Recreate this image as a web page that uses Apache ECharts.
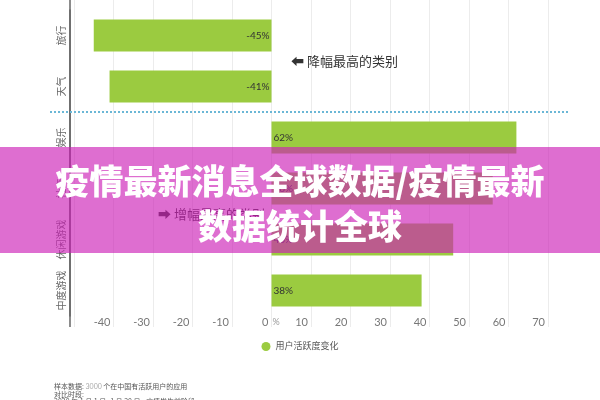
<!DOCTYPE html>
<html><head><meta charset="utf-8">
<script src="https://cdn.jsdelivr.net/npm/echarts@6/dist/echarts.min.js"></script>
<style>html,body{margin:0;padding:0;background:#fff}#c{width:600px;height:400px}</style>
</head><body><div id="c"></div>
<script>
const categories = ['旅行', '天气', '娱乐', '社交', '休闲游戏', '中度游戏'];
const values = [-45, -41, 62, 56, 46, 38];
const seriesName = '用户活跃度变化';
const xTicks = { min: -50, max: 70, interval: 10 };
const titleLines = ['疫情最新消息全球数据/疫情最新', '数据统计全球'];
const noteDown = '⬅ 降幅最高的类别';
const noteUp = '➡ 增幅最高的类别';
const footer = ['样本数据: {l|3000} 个在中国有活跃用户的应用', '对比时段:', '2020 年 1 月 1 日- 1 月 20 日 - 疫情发生前阶段'];

const chart = echarts.init(document.getElementById('c'));
const font = 'Lato, "Noto Sans CJK SC", sans-serif';
chart.setOption({
  animation: false,
  grid: { left: 74, right: 52, top: 10, bottom: 84, containLabel: false },
  legend: {
    data: [seriesName], bottom: 44, left: 'center', icon: 'circle',
    itemWidth: 9, itemHeight: 9, itemGap: 5,
    textStyle: { fontSize: 9, color: '#555', fontFamily: font }
  },
  xAxis: [{
    type: 'value', min: xTicks.min, max: xTicks.max, interval: xTicks.interval,
    axisLine: { show: false },
    axisTick: { show: true, length: 11, lineStyle: { color: '#ececec' } },
    splitLine: { show: true, lineStyle: { color: '#ececec', width: 1 } },
    axisLabel: {
      margin: 1, align: 'right', padding: [0, 3, 0, 0],
      fontSize: 11, color: '#777', fontFamily: font,
      formatter: v => (v === xTicks.min ? '' : String(v))
    }
  }, {
    type: 'value', position: 'top', min: xTicks.min, max: xTicks.max, interval: xTicks.interval,
    axisLine: { show: false },
    axisTick: { show: true, length: 10, lineStyle: { color: '#ececec' } },
    splitLine: { show: false }, axisLabel: { show: false }
  }],
  yAxis: {
    type: 'category', data: categories, inverse: true, offset: 4,
    axisLine: { onZero: false, lineStyle: { color: '#666', width: 1.5 } },
    axisTick: { length: 15, interval: 0, lineStyle: { color: '#888' } },
    axisLabel: { interval: 0, hideOverlap: false, rotate: 90, margin: 3, fontSize: 10, color: '#666', fontFamily: font }
  },
  series: [{
    name: seriesName, type: 'bar', barWidth: '63%',
    itemStyle: { color: '#9bcb40' },
    data: values.map(v => ({
      value: v,
      label: { position: v < 0 ? 'insideRight' : 'insideLeft' }
    })),
    label: { show: true, distance: 2, formatter: '{c}%', fontSize: 10, color: '#333', fontFamily: font }
  }]
});

const yA = chart.convertToPixel({ yAxisIndex: 0 }, categories[1]);
const yB = chart.convertToPixel({ yAxisIndex: 0 }, categories[2]);
const sepY = Math.round((yA + yB) / 2);
const x0 = chart.convertToPixel({ xAxisIndex: 0 }, 0);
const yUp = (chart.convertToPixel({ yAxisIndex: 0 }, categories[3]) + chart.convertToPixel({ yAxisIndex: 0 }, categories[4])) / 2;
const yDown = (yA + chart.convertToPixel({ yAxisIndex: 0 }, categories[0])) / 2;

chart.setOption({
  graphic: [
    { type: 'line', z: 5, shape: { x1: 70, y1: 0, x2: 70, y2: 327 }, style: { stroke: '#666', lineWidth: 1.5 } },
    { type: 'line', z: 5, shape: { x1: 50, y1: sepY, x2: 568, y2: sepY }, style: { stroke: '#6bb7d6', lineWidth: 2, lineDash: [2, 2] } },
    { type: 'text', z: 5, x: x0 + 1, y: 322, style: { text: '%', fontSize: 9, fill: '#999', fontFamily: font, verticalAlign: 'middle' } },
    { type: 'text', z: 5, x: 291, y: yDown, style: { text: noteDown, fontSize: 13, fill: '#333', fontFamily: '"Noto Sans CJK SC", "DejaVu Sans"', verticalAlign: 'middle' } },
    { type: 'text', z: 5, x: 158, y: yUp, style: { text: noteUp, fontSize: 13, fill: '#333', fontFamily: '"Noto Sans CJK SC", "DejaVu Sans"', verticalAlign: 'middle' } },
    { type: 'text', z: 5, x: 54, y: 383, style: {
      text: footer.join('\n'), fontSize: 7, lineHeight: 7.5, fill: '#555', fontFamily: '"Noto Sans CJK SC"',
      rich: { l: { fontSize: 7, fill: '#aaa', fontFamily: font } }
    } },
    { type: 'rect', z: 100, shape: { x: 0, y: 147, width: 600, height: 106 }, style: { fill: 'rgba(205,32,183,0.65)' } },
    { type: 'text', z: 101, x: 300, y: 181, style: { text: titleLines[0], fontSize: 34, fontWeight: 900, fill: '#fff', fontFamily: '"Noto Sans CJK SC"', align: 'center', verticalAlign: 'middle' } },
    { type: 'text', z: 101, x: 300, y: 226, style: { text: titleLines[1], fontSize: 34, fontWeight: 900, fill: '#fff', fontFamily: '"Noto Sans CJK SC"', align: 'center', verticalAlign: 'middle' } }
  ]
});
</script></body></html>
